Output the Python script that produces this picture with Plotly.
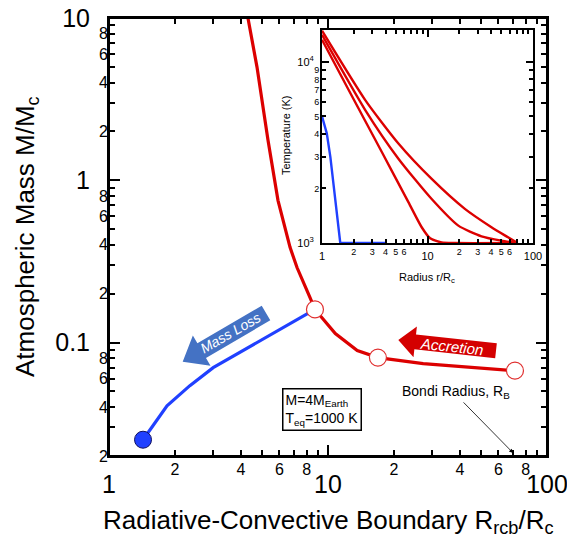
import math
import plotly.graph_objects as go

# ---------------- data ----------------
red_x = [4.31, 4.74, 5.32, 5.91, 6.71, 7.22, 8.27, 8.72, 10.8, 13.6, 16.9, 27.2, 71.4]
red_y = [10.0, 4.98, 1.77, 0.752, 0.386, 0.290, 0.190, 0.160, 0.1137, 0.0893, 0.0808, 0.0741, 0.0671]
circ_x = [8.72, 16.9, 71.4]
circ_y = [0.160, 0.0808, 0.0671]
blue_x = [1.43, 1.84, 2.34, 2.99, 8.72]
blue_y = [0.0252, 0.0408, 0.0543, 0.0701, 0.160]
dot_x = [1.43]
dot_y = [0.0252]

# inset temperature profiles
in_blue_r = [1.0, 1.11, 1.20, 1.39, 1.49, 4.0]
in_blue_T = [5000, 4030, 2990, 1453, 1000, 1000]
in_r1 = [1.0, 1.79, 3.69, 6.59, 8.81, 10.6, 13.6, 18.2, 67.0]
in_T1 = [13250, 6990, 3180, 1681, 1222, 1061, 1008, 1000, 1000]
in_r2 = [1.0, 2.57, 5.30, 10.9, 19.6, 32.5, 50.1, 69.6]
in_T2 = [14100, 5420, 2920, 1754, 1247, 1089, 1030, 1000]
in_r3 = [1.0, 2.57, 5.30, 10.9, 22.6, 40.4, 58.0, 69.6]
in_T3 = [14860, 6150, 3540, 2264, 1543, 1222, 1075, 1008]

# tick labels
main_x_lab_vals = [2, 4, 6, 8, 20, 40, 60, 80]
main_x_lab_text = ["2", "4", "6", "8", "2", "4", "6", "8"]
main_x_unlab_vals = [3, 5, 7, 9, 30, 50, 70, 90]
main_x_major_vals = [1, 10, 100]
main_x_major_text = ["1", "10", "100"]
main_y_lab_vals = [0.02, 0.04, 0.06, 0.08, 0.2, 0.4, 0.6, 0.8, 2, 4, 6, 8]
main_y_lab_text = ["2", "4", "6", "8"] * 3
main_y_unlab_vals = [0.03, 0.05, 0.07, 0.09, 0.3, 0.5, 0.7, 0.9, 3, 5, 7, 9]
main_y_major_vals = [0.1, 1, 10]
main_y_major_text = ["0.1", "1", "10"]
in_x_lab_vals = [2, 3, 4, 5, 6, 20, 30, 40, 50, 60]
in_x_lab_text = ["2", "3", "4", "5", "6"] * 2
in_x_unlab_vals = [7, 8, 9, 70, 80, 90]
in_x_major_vals = [1, 10, 100]
in_x_major_text = ["1", "10", "100"]
in_y_lab_vals = [2000, 3000, 4000, 5000, 6000, 7000, 8000, 9000]
in_y_lab_text = ["2", "3", "4", "5", "6", "7", "8", "9"]
in_y_major_vals = [1000, 10000]
in_y_major_text = ["10<sup>3</sup>", "10<sup>4</sup>"]

RED = "#dc0000"
BLUE = "#2040ff"
FONT = "Liberation Sans, Arial, sans-serif"

# page has an 8px body margin: build the figure 8px smaller and work in page pixels
OFF = 8
W, H = 575 - OFF, 540 - OFF
ML, MT = 109 - OFF, 18 - OFF
PW, PH = 438, 438
MR, MB = W - ML - PW, H - MT - PH


def px2paper(px, py):
    return (px - OFF - ML) / PW, (MT + PH - (py - OFF)) / PH


def block_arrow(tip, tail, shaft_w, head_w, head_len):
    tx, ty = tip
    bx, by = tail
    L = math.hypot(bx - tx, by - ty)
    ux, uy = (bx - tx) / L, (by - ty) / L
    nx, ny = -uy, ux
    pts = [
        (tx, ty),
        (tx + ux * head_len + nx * head_w / 2, ty + uy * head_len + ny * head_w / 2),
        (tx + ux * head_len + nx * shaft_w / 2, ty + uy * head_len + ny * shaft_w / 2),
        (bx + nx * shaft_w / 2, by + ny * shaft_w / 2),
        (bx - nx * shaft_w / 2, by - ny * shaft_w / 2),
        (tx + ux * head_len - nx * shaft_w / 2, ty + uy * head_len - ny * shaft_w / 2),
        (tx + ux * head_len - nx * head_w / 2, ty + uy * head_len - ny * head_w / 2),
    ]
    pp = [px2paper(x, y) for x, y in pts]
    return "M " + " L ".join(f"{x:.5f},{y:.5f}" for x, y in pp) + " Z"


fig = go.Figure()

# main plot traces
fig.add_trace(go.Scatter(x=blue_x, y=blue_y, mode="lines", line=dict(color=BLUE, width=3.2),
                         xaxis="x", yaxis="y", showlegend=False))
fig.add_trace(go.Scatter(x=red_x, y=red_y, mode="lines", line=dict(color=RED, width=3.2),
                         xaxis="x", yaxis="y", showlegend=False))
fig.add_trace(go.Scatter(x=circ_x, y=circ_y, mode="markers",
                         marker=dict(size=17, color="white", line=dict(color="#e03030", width=1.2)),
                         xaxis="x", yaxis="y", showlegend=False))
fig.add_trace(go.Scatter(x=dot_x, y=dot_y, mode="markers",
                         marker=dict(size=17, color="#2040ff", line=dict(color="#101060", width=1)),
                         xaxis="x", yaxis="y", showlegend=False))

# inset traces
fig.add_trace(go.Scatter(x=in_blue_r, y=in_blue_T, mode="lines", line=dict(color=BLUE, width=2.4),
                         xaxis="x2", yaxis="y2", showlegend=False))
for rr, tt in ((in_r1, in_T1), (in_r2, in_T2), (in_r3, in_T3)):
    fig.add_trace(go.Scatter(x=rr, y=tt, mode="lines",
                             line=dict(color=RED, width=2.4, shape="spline", smoothing=0.6),
                             xaxis="x2", yaxis="y2", showlegend=False))

# invisible carriers for overlay axes
for xa, ya, xv, yv in (("x3", "y3", 2, 0.5), ("x5", "y5", 2, 0.5), ("x4", "y4", 2, 2000), ("x6", "y6", 2, 2000)):
    fig.add_trace(go.Scatter(x=[xv], y=[yv], mode="markers", marker=dict(opacity=0),
                             xaxis=xa, yaxis=ya, showlegend=False, hoverinfo="skip"))

common = dict(type="log", showgrid=False, zeroline=False, ticks="inside", tickcolor="black",
              tickwidth=1.5, showline=True, linewidth=2, linecolor="black", mirror="allticks",
              tickmode="array", ticklabeloverflow="allow")

ix0, iy0 = px2paper(322, 243)
ix1, iy1 = px2paper(533, 30)
MY = [math.log10(0.02), 1]
IY = [3, math.log10(15000)]

fig.update_layout(
    width=W, height=H,
    margin=dict(l=ML, r=MR, t=MT, b=MB, autoexpand=False),
    paper_bgcolor="white", plot_bgcolor="white",
    font=dict(family=FONT, color="black"),
    # main plot axes
    xaxis=dict(**common, domain=[0, 1], anchor="y", range=[0, 2], ticklen=6,
               tickvals=main_x_lab_vals, ticktext=main_x_lab_text,
               tickfont=dict(size=16), ticklabelstandoff=-2),
    xaxis5=dict(**common, overlaying="x", anchor="y", side="bottom", range=[0, 2], ticklen=6,
                tickvals=main_x_unlab_vals, showticklabels=False),
    xaxis3=dict(**common, overlaying="x", anchor="y", side="bottom", range=[0, 2], ticklen=11,
                tickvals=main_x_major_vals, ticktext=main_x_major_text,
                tickfont=dict(size=25), ticklabelstandoff=5),
    yaxis=dict(**common, domain=[0, 1], anchor="x", range=MY, ticklen=6,
               tickvals=main_y_lab_vals, ticktext=main_y_lab_text,
               tickfont=dict(size=16), ticklabelstandoff=-4),
    yaxis5=dict(**common, overlaying="y", anchor="x", side="left", range=MY, ticklen=6,
                tickvals=main_y_unlab_vals, showticklabels=False),
    yaxis3=dict(**common, overlaying="y", anchor="x", side="left", range=MY, ticklen=11,
                tickvals=main_y_major_vals, ticktext=main_y_major_text,
                tickfont=dict(size=25), ticklabelstandoff=12),
    # inset axes
    xaxis2=dict(**common, domain=[ix0, ix1], anchor="y2", range=[0, 2], ticklen=4,
                tickvals=in_x_lab_vals, ticktext=in_x_lab_text,
                tickfont=dict(size=9), ticklabelstandoff=-1),
    xaxis6=dict(**common, overlaying="x2", anchor="y2", side="bottom", range=[0, 2], ticklen=4,
                tickvals=in_x_unlab_vals, showticklabels=False),
    xaxis4=dict(**common, overlaying="x2", anchor="y2", side="bottom", range=[0, 2], ticklen=7,
                tickvals=in_x_major_vals, ticktext=in_x_major_text,
                tickfont=dict(size=11), ticklabelstandoff=2),
    yaxis2=dict(**common, domain=[iy0, iy1], anchor="x2", range=IY, ticklen=4,
                tickvals=in_y_lab_vals, ticktext=in_y_lab_text,
                tickfont=dict(size=9), ticklabelstandoff=-1),
    yaxis6=dict(**common, overlaying="y2", anchor="x2", side="left", range=IY, ticklen=4,
                tickvals=[], showticklabels=False),
    yaxis4=dict(**common, overlaying="y2", anchor="x2", side="left", range=IY, ticklen=7,
                tickvals=in_y_major_vals, ticktext=in_y_major_text,
                tickfont=dict(size=11), ticklabelstandoff=4),
)

# frame of main plot
fig.add_shape(type="rect", xref="paper", yref="paper", x0=0, y0=0, x1=1, y1=1,
              line=dict(color="black", width=2), layer="above")

# block arrows
fig.add_shape(type="path", xref="paper", yref="paper", line=dict(width=0),
              fillcolor="#4472c4",
              path=block_arrow((182.7, 361.7), (266.0, 313.0), 17, 35, 22))
fig.add_shape(type="path", xref="paper", yref="paper", line=dict(width=0),
              fillcolor="#d40000",
              path=block_arrow((398.3, 340.0), (496.0, 350.8), 15, 31, 17))

annotations = []


def ann_px(px, py, text, **kw):
    x, y = px2paper(px, py)
    d = dict(x=x, y=y, xref="paper", yref="paper", text=text, showarrow=False,
             xanchor="center", yanchor="middle")
    d.update(kw)
    annotations.append(d)


ann_px(230, 333, "<i>Mass Loss</i>", textangle=-30, font=dict(size=14, color="white", family=FONT))
ann_px(452, 346, "<i>Accretion</i>", textangle=6, font=dict(size=15, color="white", family=FONT))
ann_px(322, 409, "M=4M<sub>Earth</sub><br>T<sub>eq</sub>=1000 K", align="left",
       bordercolor="black", borderwidth=1.5, borderpad=2, bgcolor="white",
       font=dict(size=14, color="black", family=FONT))
ann_px(456, 392, "Bondi Radius, R<sub>B</sub>", font=dict(size=14, color="black", family=FONT))
ann_px(427, 278, "Radius r/R<sub>c</sub>", font=dict(size=11, color="black", family=FONT))
ann_px(286, 136, "Temperature (K)", textangle=-90, font=dict(size=11, color="black", family=FONT))
ann_px(328, 521, "Radiative-Convective Boundary R<sub>rcb</sub>/R<sub>c</sub>",
       font=dict(size=26, color="black", family=FONT))
ann_px(26, 237, "Atmospheric Mass M/M<sub>c</sub>", textangle=-90,
       font=dict(size=26, color="black", family=FONT))

# Bondi radius arrow (tip at Bondi radius on x axis)
annotations.append(dict(x=math.log10(70.0), y=math.log10(0.0209), xref="x", yref="y", text="",
                        showarrow=True, arrowhead=2, arrowsize=1, arrowwidth=0.8, arrowcolor="black",
                        ax=-51, ay=-52, standoff=0))

fig.update_layout(annotations=annotations)

fig.write_html("out.html")
